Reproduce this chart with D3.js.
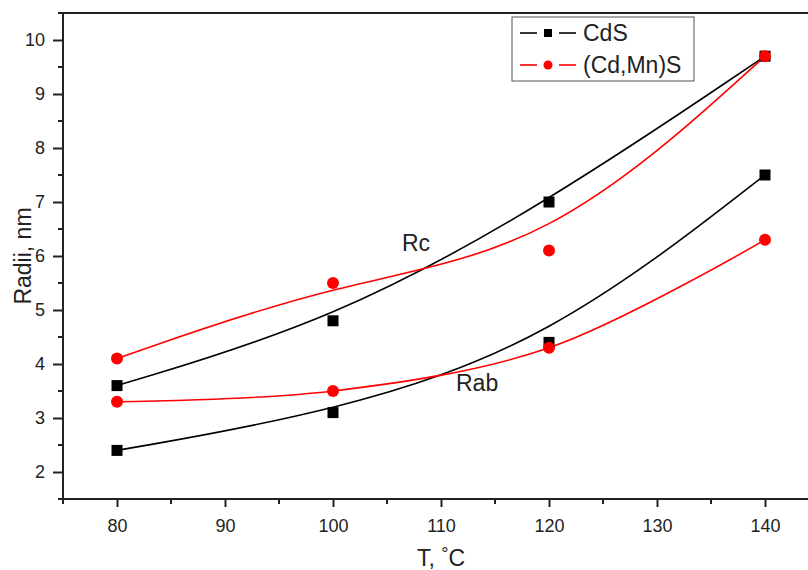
<!DOCTYPE html>
<html><head><meta charset="utf-8">
<script src="https://cdn.jsdelivr.net/npm/d3@7"></script>
<style>body{margin:0;background:#fff}svg{display:block;font-family:Arial,"Liberation Sans",sans-serif}</style>
</head><body><svg id="c" width="808" height="570"></svg>
<script>
const temps = [80, 100, 120, 140];
const cdsRc = [3.6, 4.8, 7.0, 9.7];
const cdsRab = [2.4, 3.1, 4.4, 7.5];
const mnRc = [4.1, 5.5, 6.1, 9.7];
const mnRab = [3.3, 3.5, 4.3, 6.3];
const xTicks = [80, 90, 100, 110, 120, 130, 140];
const yTicks = [2, 3, 4, 5, 6, 7, 8, 9, 10];
const seriesNames = ["CdS", "(Cd,Mn)S"];

const svg = d3.select("#c");
const x = d3.scaleLinear().domain([75, 145]).range([63, 819]);
const y = d3.scaleLinear().domain([1.5, 10.5]).range([499, 13]);
const BLACK = "#000", RED = "#ff0000";

// frame top
svg.append("line").attr("x1", 63).attr("x2", 819).attr("y1", y(10.5)).attr("y2", y(10.5))
  .attr("stroke", "#222").attr("stroke-width", 2);
svg.append("line").attr("x1", 819).attr("x2", 819).attr("y1", y(10.5)).attr("y2", y(1.5))
  .attr("stroke", "#222").attr("stroke-width", 2);

// minor ticks
const minorX = d3.range(75, 146, 5).filter(v => v % 10 !== 0);
const minorY = d3.range(1.5, 10.51, 0.5).filter(v => Math.abs(v - Math.round(v)) > 0.01);
svg.append("g").selectAll("line").data(minorX).join("line")
  .attr("x1", d => x(d)).attr("x2", d => x(d)).attr("y1", 499).attr("y2", 504)
  .attr("stroke", "#222").attr("stroke-width", 2);
svg.append("g").selectAll("line").data(minorY).join("line")
  .attr("y1", d => y(d)).attr("y2", d => y(d)).attr("x1", 63).attr("x2", 58)
  .attr("stroke", "#222").attr("stroke-width", 2);

const xa = svg.append("g").attr("transform", "translate(0,499)")
  .call(d3.axisBottom(x).tickValues(xTicks).tickSize(8).tickPadding(12).tickSizeOuter(0));
const ya = svg.append("g").attr("transform", "translate(63,0)")
  .call(d3.axisLeft(y).tickValues(yTicks).tickSize(10).tickPadding(8).tickSizeOuter(0));
[xa, ya].forEach(g => {
  g.select(".domain").attr("stroke", "#222").attr("stroke-width", 2);
  g.selectAll(".tick line").attr("stroke", "#222").attr("stroke-width", 2);
  g.selectAll(".tick text").attr("font-size", 18).attr("fill", "#222")
   .attr("font-family", "Arial, 'Liberation Sans', sans-serif");
});
ya.select(".domain").attr("d", `M0,${y(10.5)}V${y(1.5)}`);
xa.select(".domain").attr("d", `M${x(75)},0H${x(145)}`);

// axis titles
const tt = svg.append("text").attr("x", x(110)).attr("y", 566).attr("text-anchor", "middle")
  .attr("font-size", 23).attr("fill", "#222");
tt.append("tspan").text("T, ");
tt.append("tspan").attr("dy", -6).attr("font-size", 18).text("°");
tt.append("tspan").attr("dy", 6).text("C");
svg.append("text").attr("transform", `translate(31,${(y(10.5) + y(1.5)) / 2}) rotate(-90)`)
  .attr("text-anchor", "middle").attr("font-size", 23).attr("fill", "#222").text("Radii, nm");

// curves
const pts = arr => arr.map((v, i) => [temps[i], v]);
const mk = curve => d3.line().x(d => x(d[0])).y(d => y(d[1])).curve(curve);
const curves = [
  {d: cdsRc, c: BLACK, curve: d3.curveBasis},
  {d: cdsRab, c: BLACK, curve: d3.curveBasis},
  {d: mnRc, c: RED, curve: d3.curveBasis},
  {d: mnRab, c: RED, curve: d3.curveCatmullRom.alpha(0.5)}
];
curves.forEach(s => svg.append("path").attr("d", mk(s.curve)(pts(s.d)))
  .attr("fill", "none").attr("stroke", s.c).attr("stroke-width", 1.6));

// markers
[cdsRc, cdsRab].forEach(arr => svg.append("g").selectAll("rect").data(pts(arr)).join("rect")
  .attr("x", d => x(d[0]) - 5.5).attr("y", d => y(d[1]) - 5.5).attr("width", 11).attr("height", 11)
  .attr("fill", BLACK));
[mnRc, mnRab].forEach(arr => svg.append("g").selectAll("circle").data(pts(arr)).join("circle")
  .attr("cx", d => x(d[0])).attr("cy", d => y(d[1])).attr("r", 6).attr("fill", RED));

// annotations
svg.append("text").attr("x", 402).attr("y", 251).attr("font-size", 23).attr("fill", "#222").text("Rc");
svg.append("text").attr("x", 456).attr("y", 391).attr("font-size", 23).attr("fill", "#222").text("Rab");

// legend
const lg = svg.append("g");
lg.append("rect").attr("x", 512).attr("y", 17).attr("width", 182).attr("height", 64)
  .attr("fill", "#fff").attr("stroke", "#555").attr("stroke-width", 1);
seriesNames.forEach((name, i) => {
  const cy = 33 + i * 32, col = i === 0 ? BLACK : RED;
  lg.append("line").attr("x1", 520).attr("x2", 537).attr("y1", cy).attr("y2", cy).attr("stroke", col).attr("stroke-width", 1.6);
  lg.append("line").attr("x1", 559).attr("x2", 576).attr("y1", cy).attr("y2", cy).attr("stroke", col).attr("stroke-width", 1.6);
  if (i === 0) lg.append("rect").attr("x", 544).attr("y", cy - 4).attr("width", 8).attr("height", 8).attr("fill", col);
  else lg.append("circle").attr("cx", 548).attr("cy", cy).attr("r", 4.5).attr("fill", col);
  lg.append("text").attr("x", 583).attr("y", cy + 8).attr("font-size", 23).attr("fill", "#222").text(name);
});
</script></body></html>
